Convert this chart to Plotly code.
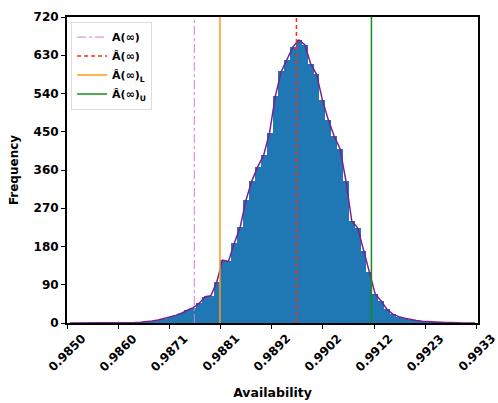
import numpy as np
import plotly.graph_objects as go

# Histogram of simulated steady-state availability
x_min, x_max = 0.98500, 0.99333
n_bins = 70
counts = [0, 0, 0, 0, 0, 0, 0, 0, 0, 0,
          0, 1, 2, 3, 5, 7, 10, 14, 18, 23,
          30, 36, 46, 62, 64, 96, 148, 145, 188, 226,
          290, 335, 368, 395, 448, 535, 592, 620, 650, 666,
          655, 610, 585, 525, 478, 440, 410, 335, 240, 224,
          170, 120, 68, 52, 32, 21, 15, 11, 8, 6,
          4, 3, 2, 1, 1, 1, 0, 0, 0, 0]

# Reference lines
a_true = 0.98758
a_hat = 0.98965
a_hat_lower = 0.98810
a_hat_upper = 0.99117

x_tick_labels = ["0.9850", "0.9860", "0.9871", "0.9881", "0.9892",
                 "0.9902", "0.9912", "0.9923", "0.9933"]
y_tick_values = [0, 90, 180, 270, 360, 450, 540, 630, 720]

edges = np.linspace(x_min, x_max, n_bins + 1)
centers = (edges[:-1] + edges[1:]) / 2
width = edges[1] - edges[0]
x_tick_values = np.linspace(0.98500, 0.99330, len(x_tick_labels))

FONT = "DejaVu Sans"
fig = go.Figure()

fig.add_trace(go.Bar(x=centers, y=counts, width=width, marker=dict(color="#1f77b4", line=dict(width=0)),
                     showlegend=False, hoverinfo="skip"))
fig.add_trace(go.Scatter(x=centers, y=counts, mode="lines", line=dict(color="#7b1f8f", width=1.5),
                         showlegend=False))

ymax = 720
fig.add_trace(go.Scatter(x=[a_true, a_true], y=[0, ymax], mode="lines", name="A(∞)",
                         line=dict(color="#d77ad8", width=1, dash="dashdot")))
fig.add_trace(go.Scatter(x=[a_hat, a_hat], y=[0, ymax], mode="lines", name="Â(∞)",
                         line=dict(color="#ff2a1a", width=1.5, dash="4px,3px")))
fig.add_trace(go.Scatter(x=[a_hat_lower, a_hat_lower], y=[0, ymax], mode="lines", name="Â(∞)<sub>L</sub>",
                         line=dict(color="#ff9a1a", width=1.5)))
fig.add_trace(go.Scatter(x=[a_hat_upper, a_hat_upper], y=[0, ymax], mode="lines", name="Â(∞)<sub>U</sub>",
                         line=dict(color="#1a8a1a", width=1.5)))

# Rotated x tick labels centred under each tick
for v, t in zip(x_tick_values, x_tick_labels):
    fig.add_annotation(x=v, y=0, xref="x", yref="paper", text=t, showarrow=False,
                       textangle=-45, xanchor="center", yanchor="top", yshift=-6,
                       font=dict(family=FONT, size=12, color="black", weight="bold"))

fig.update_layout(
    width=498, height=403,
    margin=dict(l=67, r=20, t=17, b=80),
    plot_bgcolor="white", paper_bgcolor="white",
    bargap=0,
    font=dict(family=FONT, color="black"),
    legend=dict(x=0.01, y=0.985, xanchor="left", yanchor="top",
                bgcolor="rgba(255,255,255,0.8)", bordercolor="#dddddd", borderwidth=1,
                font=dict(family=FONT, size=11, color="black", weight="bold"),
                tracegroupgap=0, itemwidth=30),
    xaxis=dict(range=[x_min, x_max], tickvals=list(x_tick_values), showticklabels=False,
               ticks="outside", ticklen=4, tickwidth=1, tickcolor="black",
               showline=True, linecolor="black", linewidth=2, mirror=True,
               showgrid=False, zeroline=False, automargin=False,
               title=dict(text="<b>Availability</b>", font=dict(family=FONT, size=12.5), standoff=60)),
    yaxis=dict(range=[0, ymax], tickvals=y_tick_values,
               ticks="outside", ticklen=4, tickwidth=1, tickcolor="black",
               tickfont=dict(family=FONT, size=12, color="black", weight="bold"),
               showline=True, linecolor="black", linewidth=2, mirror=True,
               showgrid=False, zeroline=False, automargin=False,
               title=dict(text="<b>Frequency</b>", font=dict(family=FONT, size=12), standoff=12)),
)

fig.write_html("out.html")
